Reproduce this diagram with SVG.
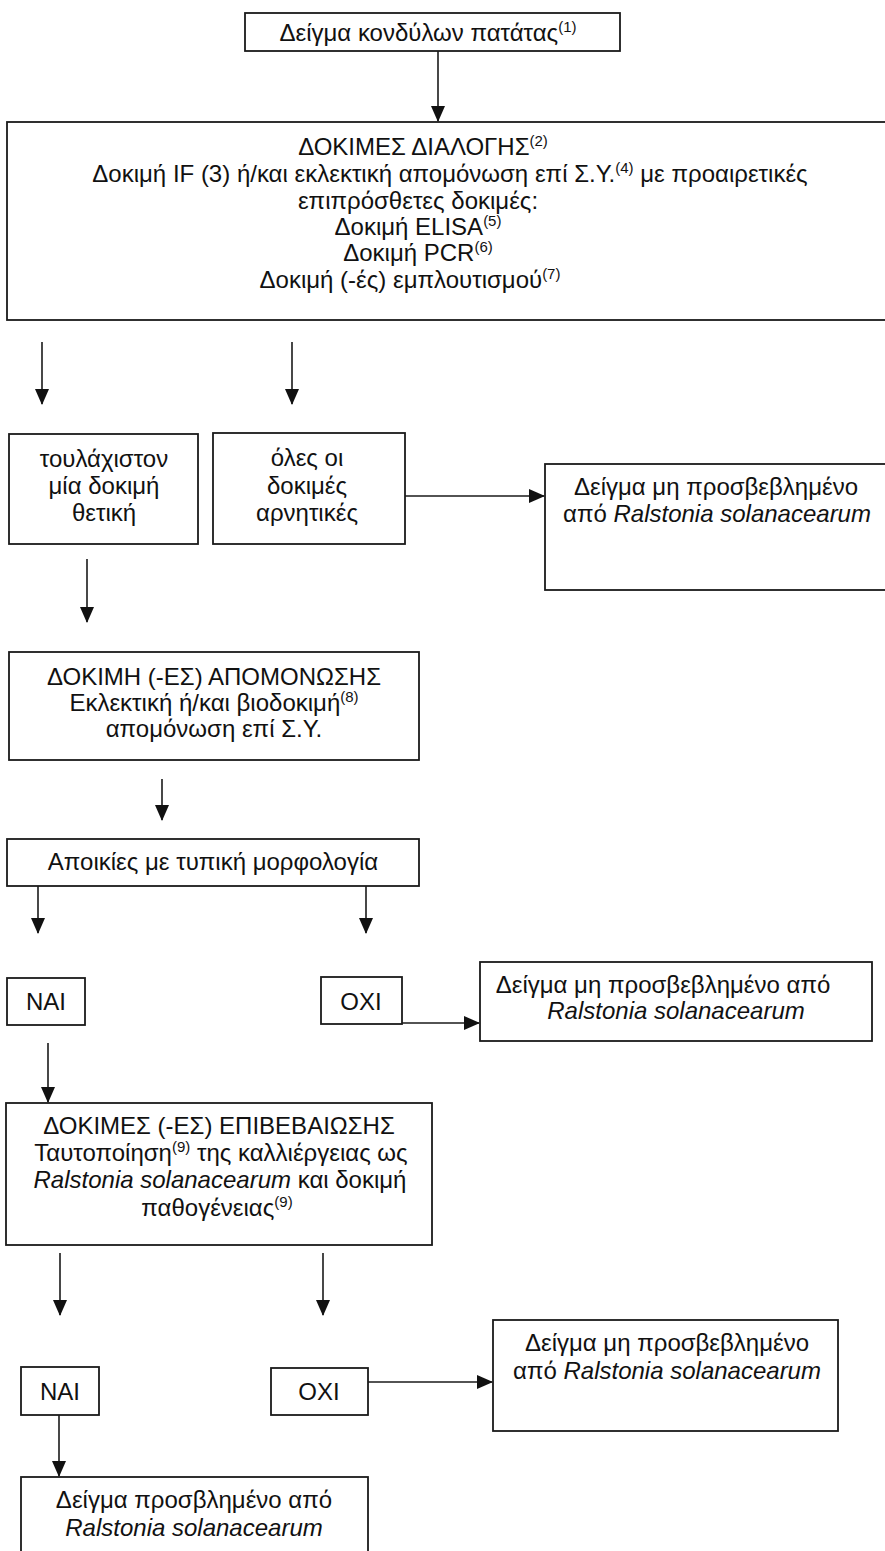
<svg xmlns="http://www.w3.org/2000/svg" width="885" height="1551" viewBox="0 0 885 1551">
<defs>
<style>
.box{fill:#fff;stroke:#1a1a1a;stroke-width:1.8}
.t{font-family:"Liberation Sans",Arial,sans-serif;font-size:24px;fill:#111;text-anchor:middle}
.n{font-family:"Liberation Sans",Arial,sans-serif;font-size:24px;fill:#111;text-anchor:middle}
.sup{font-size:15px}
.i{font-style:italic}
.c{stroke:#1a1a1a;stroke-width:1.6;fill:none}
</style>
<marker id="ah" markerWidth="16" markerHeight="14" refX="15" refY="7" orient="auto" markerUnits="userSpaceOnUse" viewBox="0 0 16 14">
<path d="M0,0 L16,7 L0,14 Z" fill="#111"/>
</marker>
</defs>
<rect width="885" height="1551" fill="#fff"/>

<g id="connectors">
<line class="c" x1="438" y1="50" x2="438" y2="121" marker-end="url(#ah)"/>
<line class="c" x1="42" y1="342" x2="42" y2="404" marker-end="url(#ah)"/>
<line class="c" x1="292" y1="342" x2="292" y2="404" marker-end="url(#ah)"/>
<line class="c" x1="405" y1="496" x2="544" y2="496" marker-end="url(#ah)"/>
<line class="c" x1="87" y1="559" x2="87" y2="622" marker-end="url(#ah)"/>
<line class="c" x1="162" y1="779" x2="162" y2="820" marker-end="url(#ah)"/>
<line class="c" x1="38" y1="886" x2="38" y2="933" marker-end="url(#ah)"/>
<line class="c" x1="366" y1="886" x2="366" y2="933" marker-end="url(#ah)"/>
<line class="c" x1="402" y1="1023" x2="479" y2="1023" marker-end="url(#ah)"/>
<line class="c" x1="48" y1="1043" x2="48" y2="1102" marker-end="url(#ah)"/>
<line class="c" x1="60" y1="1253" x2="60" y2="1315" marker-end="url(#ah)"/>
<line class="c" x1="323" y1="1253" x2="323" y2="1315" marker-end="url(#ah)"/>
<line class="c" x1="368" y1="1382" x2="492" y2="1382" marker-end="url(#ah)"/>
<line class="c" x1="59" y1="1415" x2="59" y2="1476" marker-end="url(#ah)"/>
</g>

<g id="n-sample">
<rect class="box" x="245" y="13" width="375" height="38"/>
<text class="t" x="428" y="41">Δείγμα κονδύλων πατάτας<tspan class="sup" dy="-9">(1)</tspan></text>
</g>

<g id="n-screening">
<rect class="box" x="7" y="122" width="900" height="198"/>
<text class="n" x="423" y="155">ΔΟΚΙΜΕΣ ΔΙΑΛΟΓΗΣ<tspan class="sup" dy="-9">(2)</tspan></text>
<text class="n" x="450" y="182">Δοκιμή IF (3) ή/και εκλεκτική απομόνωση επί Σ.Υ.<tspan class="sup" dy="-9">(4)</tspan><tspan dy="9"> με προαιρετικές</tspan></text>
<text class="n" x="418" y="209">επιπρόσθετες δοκιμές:</text>
<text class="n" x="418" y="235">Δοκιμή ELISA<tspan class="sup" dy="-9">(5)</tspan></text>
<text class="n" x="418" y="261">Δοκιμή PCR<tspan class="sup" dy="-9">(6)</tspan></text>
<text class="n" x="410" y="288">Δοκιμή (-ές) εμπλουτισμού<tspan class="sup" dy="-9">(7)</tspan></text>
</g>

<g id="n-positive">
<rect class="box" x="9" y="434" width="189" height="110"/>
<text class="t" x="104" y="467">τουλάχιστον</text>
<text class="t" x="104" y="494">μία δοκιμή</text>
<text class="t" x="104" y="521">θετική</text>
</g>

<g id="n-negative">
<rect class="box" x="213" y="433" width="192" height="111"/>
<text class="n" x="307" y="466">όλες οι</text>
<text class="n" x="307" y="494">δοκιμές</text>
<text class="n" x="307" y="521">αρνητικές</text>
</g>

<g id="n-not-infected-1">
<rect class="box" x="545" y="464" width="350" height="126"/>
<text class="n" x="716" y="495">Δείγμα μη προσβεβλημένο</text>
<text class="n" x="717" y="522">από <tspan class="i">Ralstonia solanacearum</tspan></text>
</g>

<g id="n-isolation">
<rect class="box" x="9" y="652" width="410" height="108"/>
<text class="t" x="214" y="685">ΔΟΚΙΜΗ (-ΕΣ) ΑΠΟΜΟΝΩΣΗΣ</text>
<text class="t" x="214" y="711">Εκλεκτική ή/και βιοδοκιμή<tspan class="sup" dy="-9">(8)</tspan></text>
<text class="t" x="214" y="737">απομόνωση επί Σ.Υ.</text>
</g>

<g id="n-colonies">
<rect class="box" x="7" y="839" width="412" height="47"/>
<text class="n" x="213" y="870">Αποικίες με τυπική μορφολογία</text>
</g>

<g id="n-yes-1">
<rect class="box" x="7" y="978" width="78" height="47"/>
<text class="n" x="46" y="1010">ΝΑΙ</text>
</g>

<g id="n-no-1">
<rect class="box" x="321" y="977" width="81" height="47"/>
<text class="n" x="361" y="1010">ΟΧΙ</text>
</g>

<g id="n-not-infected-2">
<rect class="box" x="480" y="962" width="392" height="79"/>
<text class="n" x="663" y="993">Δείγμα μη προσβεβλημένο από</text>
<text class="n i" x="676" y="1019">Ralstonia solanacearum</text>
</g>

<g id="n-confirmation">
<rect class="box" x="6" y="1103" width="426" height="142"/>
<text class="n" x="219" y="1134">ΔΟΚΙΜΕΣ (-ΕΣ) ΕΠΙΒΕΒΑΙΩΣΗΣ</text>
<text class="n" x="221" y="1161">Ταυτοποίηση<tspan class="sup" dy="-9">(9)</tspan><tspan dy="9"> της καλλιέργειας ως</tspan></text>
<text class="n" x="220" y="1188"><tspan class="i">Ralstonia solanacearum</tspan> και δοκιμή</text>
<text class="n" x="217" y="1216">παθογένειας<tspan class="sup" dy="-9">(9)</tspan></text>
</g>

<g id="n-yes-2">
<rect class="box" x="21" y="1367" width="78" height="48"/>
<text class="n" x="60" y="1400">ΝΑΙ</text>
</g>

<g id="n-no-2">
<rect class="box" x="271" y="1368" width="97" height="47"/>
<text class="n" x="319" y="1400">ΟΧΙ</text>
</g>

<g id="n-not-infected-3">
<rect class="box" x="493" y="1320" width="345" height="111"/>
<text class="n" x="667" y="1351">Δείγμα μη προσβεβλημένο</text>
<text class="n" x="667" y="1379">από <tspan class="i">Ralstonia solanacearum</tspan></text>
</g>

<g id="n-infected">
<rect class="box" x="21" y="1477" width="347" height="90"/>
<text class="n" x="194" y="1508">Δείγμα προσβλημένο από</text>
<text class="n i" x="194" y="1536">Ralstonia solanacearum</text>
</g>
</svg>
